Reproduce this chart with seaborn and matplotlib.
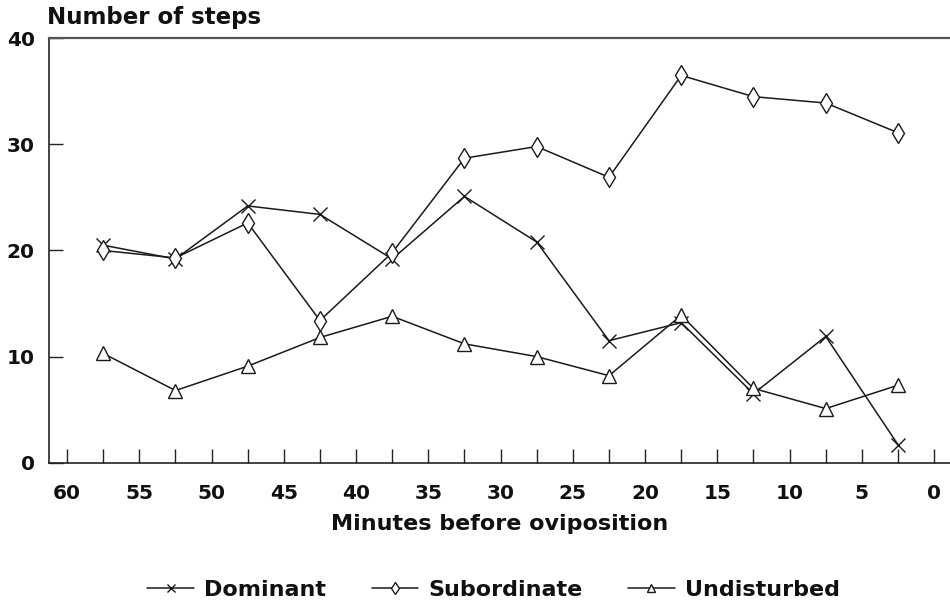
import matplotlib
matplotlib.use("Agg")
import matplotlib.pyplot as plt
import numpy as np
import pandas as pd
import seaborn as sns

# Minutes before oviposition (midpoints of 5-minute bins)
minutes = [57.5, 52.5, 47.5, 42.5, 37.5, 32.5, 27.5, 22.5, 17.5, 12.5, 7.5, 2.5]

# Mean number of steps per bin
dominant = [20.5, 19.2, 24.2, 23.4, 19.2, 25.1, 20.8, 11.5, 13.2, 6.5, 11.9, 1.7]
subordinate = [20.0, 19.3, 22.6, 13.4, 19.8, 28.7, 29.8, 26.9, 36.5, 34.5, 33.9, 31.1]
undisturbed = [10.3, 6.8, 9.1, 11.8, 13.8, 11.2, 10.0, 8.2, 13.9, 7.0, 5.1, 7.3]

groups = ["Dominant", "Subordinate", "Undisturbed"]
y_ticks = [0, 10, 20, 30, 40]

df = pd.DataFrame({
    "minutes": minutes * 3,
    "steps": dominant + subordinate + undisturbed,
    "group": [g for g in groups for _ in minutes],
})

sns.set_theme(style="white")
plt.rcParams["font.family"] = ["DejaVu Sans"]
plt.rcParams["font.weight"] = "bold"

fig = plt.figure(figsize=(9.5, 6.1), dpi=100)
ax = fig.add_axes([0.0513, 0.2415, 0.9487, 0.6957])

markers = {"Dominant": "x", "Subordinate": "d", "Undisturbed": "^"}
for g in groups:
    sub = df[df["group"] == g]
    sns.lineplot(data=sub, x="minutes", y="steps", ax=ax, color="#1a1a1a",
                 linewidth=1.1, marker=markers[g], markersize=10,
                 markerfacecolor="white", markeredgecolor="#1a1a1a",
                 markeredgewidth=1.0, label=g, legend=False)

# Time runs from 60 minutes down to the moment of oviposition
ax.set_xlim(61.27, -1.1)
ax.set_ylim(0, 40)
xt = np.arange(60, -0.1, -2.5)
ax.set_xticks(xt)
ax.set_xticklabels([str(int(v)) if v % 5 == 0 else "" for v in xt])
ax.set_yticks(y_ticks)
ax.set_yticklabels([str(v) for v in y_ticks])

ax.tick_params(axis="x", direction="in", length=10, width=1.0, color="#222222",
               pad=15, labelsize=14.5, labelcolor="#111111", bottom=True)
ax.tick_params(axis="y", direction="in", length=10, width=1.0, color="#222222",
               pad=10, labelsize=14.5, labelcolor="#111111", left=True)

for s in ["left", "bottom"]:
    ax.spines[s].set_color("#222222")
    ax.spines[s].set_linewidth(1.2)
ax.spines["top"].set_color("#555555")
ax.spines["top"].set_linewidth(1.6)
ax.spines["right"].set_visible(False)

ax.set_xlabel("Minutes before oviposition", fontsize=16, color="#111111",
              fontweight="bold", labelpad=8)
ax.set_ylabel("")
fig.text(0.049, 0.972, "Number of steps", fontsize=16.5, color="#111111",
         fontweight="bold", ha="left", va="center")

handles, labels = ax.get_legend_handles_labels()
leg = fig.legend(handles, labels, loc="center", bbox_to_anchor=(0.5195, 0.033),
                 ncol=3, frameon=False, fontsize=16, markerscale=0.6,
                 handlelength=2.1, handletextpad=0.45, columnspacing=2.05)
for t in leg.get_texts():
    t.set_color("#111111")

fig.savefig("out.png", dpi=100, facecolor="white")
